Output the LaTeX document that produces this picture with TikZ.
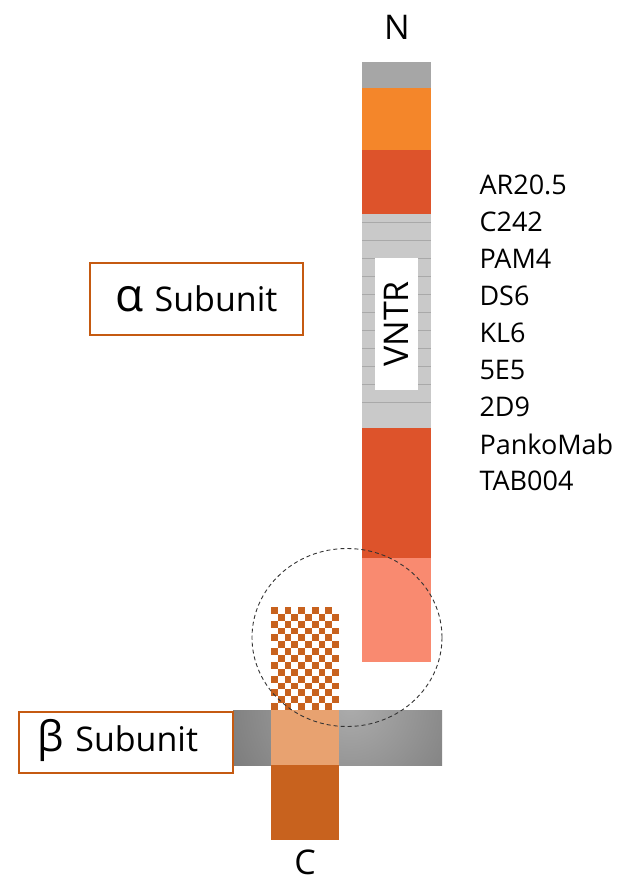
\documentclass[tikz,border=0pt]{standalone}
\usepackage{fontspec}
\setmainfont{Open Sans}
\usetikzlibrary{calc}
\definecolor{capgray}{HTML}{A6A6A6}
\definecolor{lightorange}{HTML}{F4862A}
\definecolor{redorange}{HTML}{DD532B}
\definecolor{vntrgray}{HTML}{C9C9C9}
\definecolor{vntrline}{HTML}{A9A9A9}
\definecolor{salmon}{HTML}{F98A70}
\definecolor{paleorange}{HTML}{E8A270}
\definecolor{brownorange}{HTML}{C8621E}
\definecolor{boxframe}{HTML}{C55A11}
\tikzset{
  subunitbox/.style = {
    draw=boxframe, line width=2pt, fill=white, inner sep=0pt
  },
  antibody/.style = {
    anchor=west, font=\fontsize{27}{30}\selectfont
  },
  endlabel/.style = {
    font=\fontsize{34}{40}\selectfont
  }
}

\begin{document}
\begin{tikzpicture}[x=1pt,y=-1pt]
  \useasboundingbox (0,0) rectangle (624,881);
  \pgfmathsetmacro{\Left}{362};
  \pgfmathsetmacro{\Right}{431};
  \pgfmathsetmacro{\BLeft}{271};
  \pgfmathsetmacro{\BRight}{339};
  \pgfmathsetmacro{\Sq}{6.8};
  %
  % alpha chain
  \fill[capgray] (\Left,62) rectangle (\Right,88);
  \fill[lightorange] (\Left,88) rectangle (\Right,150);
  \fill[redorange] (\Left,150) rectangle (\Right,214);
  \fill[vntrgray] (\Left,214) rectangle (\Right,428);
  \foreach \k in {0,...,10}
    \draw[vntrline, line width=0.8pt] (\Left,{222+18*\k}) -- (\Right,{222+18*\k});
  \fill[redorange] (\Left,428) rectangle (\Right,558);
  \fill[salmon] (\Left,558) rectangle (\Right,662);
  \node[fill=white, minimum width=43pt, minimum height=132pt, inner sep=0pt] (vntr) at (396.5,324) {};
  \node[rotate=90, font=\fontsize{34}{40}\selectfont] (vntrtext) at (vntr.center) {VNTR};
  %
  % membrane
  \begin{scope}
    \clip (233,710) rectangle (442,765);
    \shade[inner color={rgb,255:red,172;green,172;blue,172}, outer color={rgb,255:red,82;green,82;blue,82}] (350,705) circle (250);
  \end{scope}
  %
  % beta chain
  \foreach \i in {0,...,9}
    \foreach \j in {0,...,14} {
      \pgfmathtruncatemacro{\odd}{mod(\i+\j,2)}
      \ifnum\odd=0
        \fill[brownorange] ({\BLeft+\i*\Sq},{607+\j*6.87}) rectangle ++(\Sq,6.87);
      \fi
    }
  \fill[paleorange] (\BLeft,710) rectangle (\BRight,765);
  \fill[brownorange] (\BLeft,765) rectangle (\BRight,840);
  %
  % cleavage region
  \draw[line width=0.9pt, black!80, dash pattern=on 4pt off 3pt] (347,637.5) ellipse [x radius=95, y radius=89];
  %
  % ends
  \node[endlabel] (nterm) at (397,27) {N};
  \node[endlabel] (cterm) at (305,862) {C};
  %
  % subunit labels
  \node[subunitbox, minimum width=213pt, minimum height=72pt] (alpha) at (196.5,299) {};
  \node (alphatext) at (alpha.center) {\fontsize{46}{46}\selectfont α\hspace{11pt}\fontsize{34}{40}\selectfont Subunit};
  \node[subunitbox, minimum width=214pt, minimum height=61pt] (beta) at (126,742.5) {};
  \node (betatext) at ([xshift=-8pt,yshift=2pt]beta.center) {\fontsize{42}{42}\selectfont β\hspace{11pt}\fontsize{34}{40}\selectfont Subunit};
  %
  % antibodies
  \foreach \ab [count=\n from 0] in {AR20.5,C242,PAM4,DS6,KL6,5E5,2D9,PankoMab,TAB004}
    \node[antibody] (ab\n) at (476,{185+37*\n}) {\ab};
\end{tikzpicture}
\end{document}
